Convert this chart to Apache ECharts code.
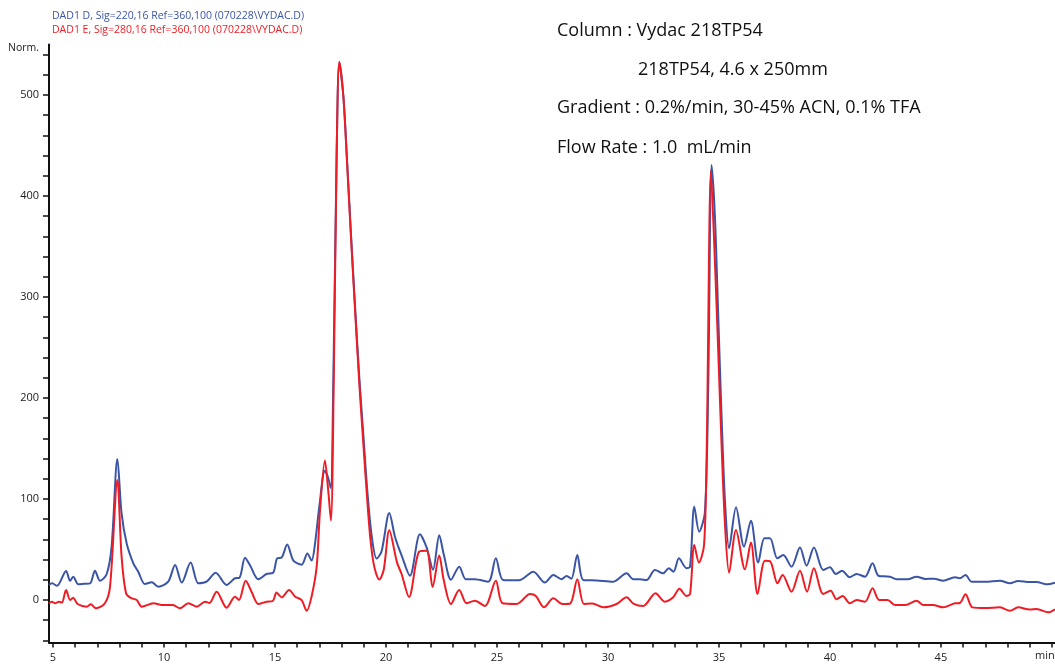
<!DOCTYPE html>
<html>
<head>
<meta charset="utf-8">
<script src="https://cdn.jsdelivr.net/npm/echarts@6/dist/echarts.min.js"></script>
<style>
html,body{margin:0;padding:0;background:#fff;}
#chart{width:1055px;height:665px;}
</style>
</head>
<body>
<div id="chart"></div>
<script>
// Series names
const seriesNames = [
  'DAD1 D, Sig=220,16 Ref=360,100 (070228\\VYDAC.D)',
  'DAD1 E, Sig=280,16 Ref=360,100 (070228\\VYDAC.D)'
];

// Blue trace: [time (min), signal (Norm.)]
const blueTrace = [
  [4.82,15],[4.96,16.5],[5.18,14],[5.59,28.7],[5.77,19],[5.91,23],[6.14,15.5],[6.4,16],[6.67,16.5],
  [6.89,29],[7.12,19],[7.42,25.7],[7.64,52.8],[7.9,139.6],[8.09,85.8],[8.32,56],[8.62,36.3],[8.84,28],
  [9.14,15.8],[9.45,17.5],[9.74,13.2],[10.19,18.1],[10.5,34.7],[10.8,17.2],[11.2,37],[11.55,16.5],
  [11.92,18.1],[12.33,27],[12.82,14.9],[13.2,21.5],[13.4,22],[13.65,41.9],[13.87,34.7],[14.25,20.5],
  [14.62,25.7],[14.92,27],[15.1,41.3],[15.3,42],[15.55,55],[15.83,39],[16.2,35],[16.46,46],[16.65,39],
  [16.8,55],[17.0,93],[17.25,128],[17.38,122],[17.51,111],[17.63,220],[17.78,443],[17.9,532],
  [18.08,499],[18.23,443],[18.41,368],[18.6,294],[18.8,220],[18.98,164],[19.16,108],[19.36,63],
  [19.58,41],[19.8,48],[20.15,86],[20.4,63],[20.55,53],[20.7,44.5],[21.08,24],[21.53,65],[21.83,52],
  [22.12,30],[22.4,64],[22.61,44.5],[22.93,20],[23.3,33],[23.6,20.5],[24.0,20.5],[24.61,18.1],
  [24.95,41.3],[25.28,19.8],[25.99,19.5],[26.64,28],[27.16,17.2],[27.54,24.8],[27.91,20.5],[28.14,23.8],
  [28.35,21],[28.62,44.6],[28.89,19.8],[29.5,19.3],[30.24,18.1],[30.84,26.4],[31.14,20.5],[31.44,20.5],
  [31.74,19.8],[32.12,29.7],[32.49,26.4],[32.74,31.4],[32.95,28],[33.2,41.3],[33.54,31.4],[33.7,33],
  [33.89,92.4],[34.11,67.6],[34.37,87.4],[34.52,214],[34.67,430.7],[34.82,379.5],[34.97,280.5],
  [35.12,181.5],[35.27,99],[35.46,51.2],[35.77,91.8],[36.13,52.8],[36.44,78.5],[36.77,37],[37.05,61],
  [37.3,61],[37.63,41.3],[37.9,44.6],[38.27,33],[38.65,52],[38.95,34],[39.28,52],[39.7,29.7],[40.0,32.4],
  [40.27,25.7],[40.55,29],[40.88,22.5],[41.2,25.7],[41.58,23.1],[41.92,36.3],[42.2,23.8],[42.7,23.1],
  [43.0,20.5],[43.5,20.5],[43.9,23.1],[44.3,20.8],[44.7,21],[45.1,19.1],[45.63,22.4],[45.85,21.5],
  [46.11,24.8],[46.38,18.1],[47.0,18.1],[47.66,19.1],[48.11,16.5],[48.48,18.8],[49.0,17.8],[49.31,17.8],
  [49.76,15.5],[50.14,17.2]
];

// Red trace: [time (min), signal (Norm.)]
const redTrace = [
  [4.82,-3.3],[4.95,-1.7],[5.1,-3.3],[5.27,-1.7],[5.4,-2.5],[5.59,9.9],[5.77,0],[5.91,2.3],[6.11,-4],
  [6.52,-6.6],[6.7,-4.3],[6.94,-8.3],[7.34,-3.3],[7.57,13.2],[7.9,118.8],[8.09,42.9],[8.29,6.6],[8.5,2],
  [8.77,0],[9.0,-6.6],[9.52,-3.3],[9.97,-5],[10.4,-5],[10.72,-8.3],[11.1,-3.3],[11.47,-6.6],[11.85,-1.7],
  [12.05,-3],[12.37,8.2],[12.82,-7.6],[13.2,3.3],[13.38,0],[13.68,19.1],[13.95,8],[14.25,-4],[14.62,-1.7],
  [14.9,-1],[15.07,7.3],[15.3,2.6],[15.64,10],[15.9,3.5],[16.2,-0.2],[16.43,-10.7],[16.65,3.5],[16.88,33.3],
  [17.03,89],[17.25,138],[17.4,108],[17.52,78.7],[17.65,220],[17.78,443],[17.9,533],[18.08,499],
  [18.23,440],[18.41,365],[18.6,290],[18.8,214],[18.98,155],[19.16,98],[19.3,60],[19.47,33.3],[19.7,20.2],
  [19.9,30],[20.15,69],[20.5,37],[20.7,26],[21.04,3],[21.5,48],[21.83,48.8],[22.1,13],[22.4,44],[22.6,20],
  [22.93,-4],[23.3,9.9],[23.63,-3.3],[24.0,-0.7],[24.46,-5.9],[24.95,19.1],[25.25,-3.3],[25.89,-4],
  [26.49,5.9],[26.75,4],[27.12,-7.3],[27.54,1.7],[27.95,-4],[28.3,-3.5],[28.62,20.5],[28.92,-4],[29.3,-3.5],
  [29.79,-7.3],[30.39,-4],[30.84,2.6],[31.14,-3.5],[31.59,-5.9],[32.14,6.6],[32.57,-1.7],[32.94,2.6],
  [33.22,11],[33.54,4],[33.7,6],[33.89,54.5],[34.1,37],[34.33,54.5],[34.45,148.5],[34.64,425],[34.77,363],
  [34.94,264],[35.1,165],[35.27,76],[35.46,27],[35.77,69.3],[36.17,30.4],[36.44,56.8],[36.74,5.9],
  [37.07,38.9],[37.3,38.5],[37.64,16.5],[37.87,24.8],[38.27,8.2],[38.65,29],[38.97,8.2],[39.28,31.4],
  [39.7,6],[40.03,9.2],[40.3,0.7],[40.57,4],[40.9,-3.3],[41.2,0],[41.58,-1.7],[41.92,11.6],[42.22,0],
  [42.6,0],[42.93,-5],[43.4,-5],[43.9,-0.7],[44.2,-5],[44.65,-5],[45.1,-7.3],[45.63,-3.3],[45.85,-3],
  [46.11,5.6],[46.42,-7.3],[47.0,-8],[47.66,-7.3],[48.11,-10.6],[48.48,-7.3],[49.0,-9.5],[49.31,-8.9],
  [49.83,-12.2],[50.14,-9.2]
];

// Axis ticks and labels
const xTickValues = [5,6,7,8,9,10,11,12,13,14,15,16,17,18,19,20,21,22,23,24,25,26,27,28,29,30,31,32,33,34,35,36,37,38,39,40,41,42,43,44,45,46,47,48,49,50];
const xLabelValues = [5,10,15,20,25,30,35,40,45];
const yTickValues = [-40,-20,0,20,40,60,80,100,120,140,160,180,200,220,240,260,280,300,320,340,360,380,400,420,440,460,480,500,520,540];
const yLabelValues = [0,100,200,300,400,500];

// Annotation lines
const notes = [
  'Column : Vydac 218TP54',
  '218TP54, 4.6 x 250mm',
  'Gradient : 0.2%/min, 30-45% ACN, 0.1% TFA',
  'Flow Rate : 1.0  mL/min'
];

const BLUE = '#3b55a6';
const RED = '#ee1d25';
const FONT = 'Open Sans';

const chart = echarts.init(document.getElementById('chart'), null, {renderer: 'canvas'});
chart.setOption({
  animation: false,
  backgroundColor: '#ffffff',
  grid: {left: 49, right: 0, top: 44.5, bottom: 22.6, containLabel: false},
  xAxis: {
    type: 'value', min: 4.82, max: 50.14,
    axisLine: {show: true, onZero: false, lineStyle: {color: '#111', width: 2}},
    axisTick: {show: true, length: 5, customValues: xTickValues, lineStyle: {color: '#111', width: 1.5}},
    axisLabel: {customValues: xLabelValues, margin: 10, fontSize: 11, color: '#222', fontFamily: FONT},
    splitLine: {show: false}
  },
  yAxis: {
    type: 'value', min: -42, max: 550,
    axisLine: {show: true, lineStyle: {color: '#111', width: 2}},
    axisTick: {show: true, length: 6, customValues: yTickValues, lineStyle: {color: '#111', width: 1.5}},
    axisLabel: {customValues: yLabelValues, margin: 10, fontSize: 11, color: '#222', fontFamily: FONT},
    splitLine: {show: false}
  },
  series: [
    {name: seriesNames[0], type: 'line', data: blueTrace, showSymbol: false, smooth: 0.3,
     lineStyle: {color: BLUE, width: 2}, itemStyle: {color: BLUE}, z: 2},
    {name: seriesNames[1], type: 'line', data: redTrace, showSymbol: false, smooth: 0.3,
     lineStyle: {color: RED, width: 2}, itemStyle: {color: RED}, z: 3}
  ],
  graphic: [
    {type: 'text', left: 52, top: 11, style: {text: seriesNames[0], fill: BLUE, fontSize: 10.5, fontFamily: FONT}},
    {type: 'text', left: 52, top: 25, style: {text: seriesNames[1], fill: RED, fontSize: 10.5, fontFamily: FONT}},
    {type: 'text', left: 8, top: 43, style: {text: 'Norm.', fill: '#222', fontSize: 10.5, fontFamily: FONT}},
    {type: 'text', left: 1035, top: 650, style: {text: 'min', fill: '#222', fontSize: 11, fontFamily: FONT}},
    {type: 'text', left: 557, top: 22, style: {text: notes[0], fill: '#111', fontSize: 18, fontFamily: FONT}},
    {type: 'text', left: 638, top: 61, style: {text: notes[1], fill: '#111', fontSize: 18, fontFamily: FONT}},
    {type: 'text', left: 557, top: 99, style: {text: notes[2], fill: '#111', fontSize: 18, fontFamily: FONT}},
    {type: 'text', left: 557, top: 139, style: {text: notes[3], fill: '#111', fontSize: 18, fontFamily: FONT}}
  ]
});
</script>
</body>
</html>
